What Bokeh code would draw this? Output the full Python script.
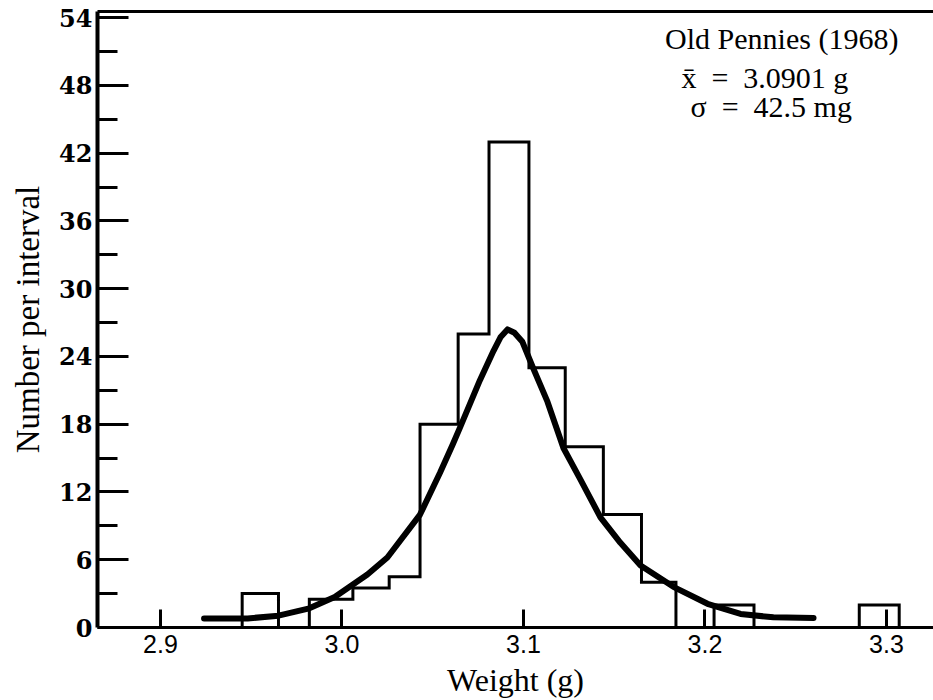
from bokeh.plotting import figure
from bokeh.models import Range1d, FixedTicker, LinearAxis, Label, NumeralTickFormatter
from bokeh.embed import file_html
from bokeh.resources import INLINE

# ---- data ----
bin_edges = [2.945, 2.965, 2.982, 3.006, 3.026, 3.043, 3.064, 3.081, 3.103,
             3.123, 3.144, 3.165, 3.184, 3.205, 3.227, 3.285, 3.307]
bin_counts = [3, 0, 2.5, 3.5, 4.5, 18, 26, 43, 23, 16, 10, 4, 0, 2, 0, 2]

curve_x = [2.924, 2.948, 2.965, 2.982, 2.996, 3.006, 3.014, 3.025, 3.043, 3.054,
           3.061, 3.065, 3.076, 3.0835, 3.0873, 3.0912, 3.095, 3.0994, 3.1055,
           3.1132, 3.122, 3.1314, 3.1424, 3.1534, 3.1645, 3.1826, 3.2014,
           3.2196, 3.2377, 3.2598]
curve_y = [0.8, 0.8, 1.05, 1.7, 2.7, 3.8, 4.7, 6.2, 10.0, 13.7, 16.2, 17.7,
           21.9, 24.5, 25.7, 26.4, 26.1, 25.3, 22.9, 20.0, 15.9, 13.1, 9.75,
           7.5, 5.5, 3.6, 2.1, 1.2, 0.9, 0.85]

x_ticks = [2.9, 3.0, 3.1, 3.2, 3.3]
y_ticks = [0, 6, 12, 18, 24, 30, 36, 42, 48, 54]
y_minor = [3, 9, 15, 21, 27, 33, 39, 45, 51]

title_lines = ["Old Pennies (1968)",
               "x\u0304\u2002=\u20023.0901\u00a0g",
               "\u03c3\u2002=\u200242.5\u00a0mg"]
x_title = "Weight (g)"
y_title = "Number per interval"

# ---- figure ----
p = figure(width=933, height=700, output_backend="svg", toolbar_location=None,
           x_range=Range1d(2.86529, 3.3259), y_range=Range1d(0, 54.55),
           min_border_left=97, min_border_right=0, min_border_top=11,
           min_border_bottom=72, background_fill_color="white",
           border_fill_color="white")
p.outline_line_color = None
p.grid.visible = False

# step outline of the histogram
sx = [bin_edges[0]]
sy = [0]
for i, c in enumerate(bin_counts):
    sx += [bin_edges[i], bin_edges[i + 1]]
    sy += [c, c]
sx.append(bin_edges[-1])
sy.append(0)
p.line(sx, sy, line_color="black", line_width=3, line_join="miter")

# fitted curve
p.line(curve_x, curve_y, line_color="black", line_width=6, line_join="round",
       line_cap="round")

# axes
xa = p.xaxis[0]
xa.ticker = FixedTicker(ticks=x_ticks)
xa.formatter = NumeralTickFormatter(format="0.0")
xa.axis_line_width = 3
xa.major_tick_in = 18
xa.major_tick_out = 0
xa.major_tick_line_width = 3
xa.minor_tick_line_color = None
xa.major_label_text_font = "Liberation Sans"
xa.major_label_text_font_size = "25px"
xa.major_label_text_color = "black"
xa.major_label_standoff = 7
xa.axis_label = x_title
xa.axis_label_text_font = "Liberation Serif"
xa.axis_label_text_font_style = "normal"
xa.axis_label_text_font_size = "32px"
xa.axis_label_text_color = "black"
xa.axis_label_standoff = 6

ya = p.yaxis[0]
ya.ticker = FixedTicker(ticks=y_ticks, minor_ticks=y_minor)
ya.axis_line_width = 4
ya.major_tick_in = 31
ya.major_tick_out = 0
ya.minor_tick_in = 20
ya.minor_tick_out = 0
ya.major_tick_line_width = 3
ya.minor_tick_line_width = 3
ya.major_label_text_font = "DejaVu Serif"
ya.major_label_text_font_style = "bold"
ya.major_label_text_font_size = "24px"
ya.major_label_text_color = "black"
ya.major_label_standoff = 5
ya.axis_label = y_title
ya.axis_label_text_font = "Liberation Serif"
ya.axis_label_text_font_style = "normal"
ya.axis_label_text_font_size = "33px"
ya.axis_label_text_color = "black"
ya.axis_label_standoff = 10

top = LinearAxis(ticker=FixedTicker(ticks=[]), axis_line_width=3,
                 major_tick_in=0, major_tick_out=0, minor_tick_in=0,
                 minor_tick_out=0, major_label_text_font_size="0px")
p.add_layout(top, "above")

# annotation text
ann_x = [3.178, 3.187, 3.192]
ann_y = [52.2, 48.7, 46.1]
for t, ax_, ay_ in zip(title_lines, ann_x, ann_y):
    p.add_layout(Label(x=ax_, y=ay_, text=t, text_font="Liberation Serif",
                       text_font_size="30px", text_color="black",
                       text_baseline="alphabetic", text_align="left"))

open("out.html", "w").write(file_html(p, INLINE))
